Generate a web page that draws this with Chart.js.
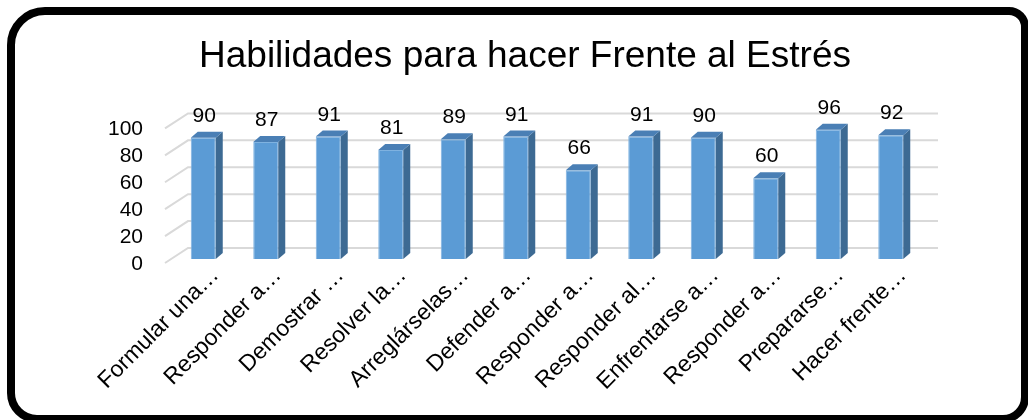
<!DOCTYPE html>
<html>
<head>
<meta charset="utf-8">
<script src="https://cdn.jsdelivr.net/npm/chart.js@4"></script>
<style>
  html, body { margin: 0; padding: 0; background: #fff; }
  #wrap { position: relative; width: 1028px; height: 420px; overflow: hidden; }
  #chart { position: absolute; left: 0; top: 0; }
  #frame {
    position: absolute; left: 7px; top: 7px; width: 1022px; height: 416px;
    box-sizing: border-box; border: 8px solid #000;
    border-radius: 38px 20px 26px 30px; pointer-events: none;
  }
</style>
</head>
<body>
<div id="wrap">
  <canvas id="chart" width="1028" height="420"></canvas>
  <div id="frame"></div>
</div>
<script>
const categories = ["Formular una…", "Responder a…", "Demostrar …", "Resolver la…", "Arreglárselas…",
  "Defender a…", "Responder a…", "Responder al…", "Enfrentarse a…", "Responder a…",
  "Prepararse…", "Hacer frente…"];
const values = [90, 87, 91, 81, 89, 91, 66, 91, 90, 60, 96, 92];
const yTicks = [0, 20, 40, 60, 80, 100];

const FONT = "'Liberation Sans', Arial, sans-serif";
const DEPTH_X = 7, DEPTH_Y = 6;

// back wall grid lines with the diagonal to the front
const grid3d = {
  id: "grid3d",
  beforeDatasetsDraw(chart) {
    const { ctx, chartArea: a, scales: { y } } = chart;
    ctx.save();
    ctx.strokeStyle = "#d9d9d9";
    ctx.lineWidth = 2;
    yTicks.forEach(v => {
      const py = y.getPixelForValue(v);
      ctx.beginPath();
      ctx.moveTo(a.left - 7, py + 4);
      ctx.lineTo(a.left + 16, py - 11);
      ctx.lineTo(a.right + 16, py - 11);
      ctx.stroke();
    });
    ctx.restore();
  }
};

// side + top faces and value labels
const bars3d = {
  id: "bars3d",
  afterDatasetsDraw(chart) {
    const { ctx } = chart;
    const meta = chart.getDatasetMeta(0);
    ctx.save();
    meta.data.forEach((bar, i) => {
      const { x, y, base, width } = bar.getProps(["x", "y", "base", "width"], true);
      const l = x - width / 2, r = x + width / 2;
      ctx.fillStyle = "#3d6a93";
      ctx.beginPath();
      ctx.moveTo(r, y); ctx.lineTo(r + DEPTH_X, y - DEPTH_Y);
      ctx.lineTo(r + DEPTH_X, base - DEPTH_Y); ctx.lineTo(r, base);
      ctx.closePath(); ctx.fill();
      ctx.fillStyle = "#4a7fb5";
      ctx.beginPath();
      ctx.moveTo(l, y); ctx.lineTo(l + DEPTH_X, y - DEPTH_Y);
      ctx.lineTo(r + DEPTH_X, y - DEPTH_Y); ctx.lineTo(r, y);
      ctx.closePath(); ctx.fill();

      ctx.fillStyle = "#000";
      ctx.font = "21px " + FONT;
      ctx.textAlign = "center";
      ctx.textBaseline = "alphabetic";
      ctx.fillText(String(values[i]), x + 1, y - 16);
    });
    ctx.restore();
  }
};

new Chart(document.getElementById("chart"), {
  type: "bar",
  data: {
    labels: categories,
    datasets: [{
      data: values,
      backgroundColor: "#5b9bd5",
      borderColor: "#7fb2e0",
      borderWidth: 1,
      barPercentage: 0.4,
      categoryPercentage: 1
    }]
  },
  options: {
    responsive: false,
    animation: false,
    layout: { padding: { left: 107, right: 85, top: 35, bottom: 0 } },
    plugins: {
      legend: { display: false },
      tooltip: { enabled: false },
      title: {
        display: true,
        text: "Habilidades para hacer Frente al Estrés",
        color: "#000",
        font: { family: FONT, size: 37, weight: "normal" },
        padding: { top: 0, bottom: 45 }
      }
    },
    scales: {
      y: {
        min: 0, max: 100,
        afterBuildTicks(scale) { scale.ticks = yTicks.map(v => ({ value: v })); },
        afterFit(scale) { scale.width = 65; },
        grid: { display: false, drawTicks: false },
        border: { display: false },
        ticks: { color: "#000", font: { family: FONT, size: 21 }, padding: 29, labelOffset: 5, autoSkip: false }
      },
      // empty right-hand spacer so the plot keeps its place while the title centres
      yRight: {
        position: "right",
        afterFit(scale) { scale.width = 21; },
        grid: { display: false, drawTicks: false },
        border: { display: false },
        ticks: { display: false }
      },
      x: {
        afterFit(scale) { scale.height = 161; },
        grid: { display: false, drawTicks: false },
        border: { display: false },
        ticks: {
          color: "#000", font: { family: FONT, size: 23 },
          minRotation: 45, maxRotation: 45, autoSkip: false, padding: 3, labelOffset: 12
        }
      }
    }
  },
  plugins: [grid3d, bars3d]
});
</script>
</body>
</html>
